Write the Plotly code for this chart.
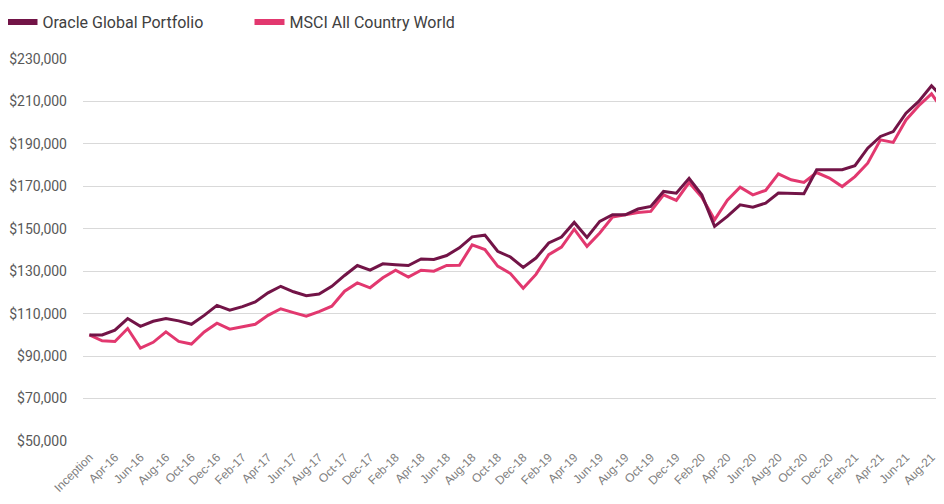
import plotly.graph_objects as go

months = [
    "Inception", "Mar-16", "Apr-16", "May-16", "Jun-16", "Jul-16", "Aug-16", "Sep-16", "Oct-16", "Nov-16", "Dec-16",
    "Jan-17", "Feb-17", "Mar-17", "Apr-17", "May-17", "Jun-17", "Jul-17", "Aug-17", "Sep-17", "Oct-17", "Nov-17", "Dec-17",
    "Jan-18", "Feb-18", "Mar-18", "Apr-18", "May-18", "Jun-18", "Jul-18", "Aug-18", "Sep-18", "Oct-18", "Nov-18", "Dec-18",
    "Jan-19", "Feb-19", "Mar-19", "Apr-19", "May-19", "Jun-19", "Jul-19", "Aug-19", "Sep-19", "Oct-19", "Nov-19", "Dec-19",
    "Jan-20", "Feb-20", "Mar-20", "Apr-20", "May-20", "Jun-20", "Jul-20", "Aug-20", "Sep-20", "Oct-20", "Nov-20", "Dec-20",
    "Jan-21", "Feb-21", "Mar-21", "Apr-21", "May-21", "Jun-21", "Jul-21", "Aug-21", "Sep-21",
]

portfolio = [
    100.0, 100.0, 102.2, 107.7, 104.0, 106.4, 107.7, 106.6, 105.0, 109.2, 113.9,
    111.6, 113.3, 115.5, 119.8, 122.9, 120.3, 118.5, 119.3, 122.9, 128.0, 132.7, 130.5,
    133.5, 133.1, 132.7, 135.8, 135.5, 137.4, 141.0, 146.2, 147.0, 139.4, 136.7, 131.8,
    136.2, 143.3, 146.1, 153.0, 145.9, 153.5, 156.6, 156.6, 159.3, 160.5, 167.6, 166.8,
    173.8, 166.0, 151.1, 155.8, 161.3, 160.2, 162.1, 166.8, 166.8, 166.5, 177.8, 177.8,
    177.8, 179.7, 188.0, 193.5, 195.8, 204.5, 210.0, 217.4, 211.0,
]

msci = [
    100.0, 97.2, 96.9, 103.0, 93.8, 96.5, 101.4, 96.9, 95.7, 101.4, 105.5,
    102.7, 103.8, 105.0, 109.2, 112.3, 110.5, 108.8, 111.0, 113.5, 120.6, 124.5, 122.2,
    126.9, 130.5, 127.3, 130.5, 130.0, 132.7, 132.8, 142.4, 140.2, 132.4, 128.9, 122.0,
    128.5, 137.8, 141.4, 149.8, 141.7, 148.0, 155.5, 156.6, 157.7, 158.2, 166.0, 163.4,
    171.8, 164.9, 154.2, 163.5, 169.6, 166.0, 168.1, 175.9, 173.1, 171.8, 176.5, 173.9,
    169.9, 174.6, 180.9, 191.9, 190.7, 201.3, 208.0, 213.6, 205.0,
]

series_names = ["Oracle Global Portfolio", "MSCI All Country World"]
y_ticks = [50000, 70000, 90000, 110000, 130000, 150000, 170000, 190000, 210000, 230000]

DARK = "#721447"
PINK = "#e2386f"

fig = go.Figure()
for name, vals, col in [(series_names[1], msci, PINK), (series_names[0], portfolio, DARK)]:
    fig.add_trace(go.Scatter(
        x=months, y=[v * 1000 for v in vals], mode="lines", name=name,
        line=dict(color=col, width=3), showlegend=False, hoverinfo="x+y",
    ))
# legend entries (thick swatches)
for name, col in [(series_names[0], DARK), (series_names[1], PINK)]:
    fig.add_trace(go.Scatter(
        x=[None], y=[None], mode="lines", name=name,
        line=dict(color=col, width=6), showlegend=True,
    ))

fig.update_layout(
    width=936, height=496,
    margin=dict(l=75, r=0, t=51, b=63, autoexpand=False),
    paper_bgcolor="white", plot_bgcolor="white",
    font=dict(family="Roboto", color="#595959"),
    legend=dict(
        orientation="h", x=-0.0935, y=1.1414, xref="paper", yref="paper",
        xanchor="left", yanchor="top",
        font=dict(family="Roboto", size=16, color="#404040"),
        entrywidth=202, itemwidth=30, tracegroupgap=0,
        bgcolor="rgba(0,0,0,0)", borderwidth=0,
    ),
    xaxis=dict(
        type="category", categoryorder="array", categoryarray=months,
        tickvals=months[::2], ticktext=months[::2],
        tickangle=-45, range=[-0.5, 66.98],
        showgrid=False, zeroline=False, showline=False, ticks="",
        ticklabelstandoff=6,
        tickfont=dict(family="Liberation Sans", size=12, color="#808080"),
        automargin=False,
    ),
    yaxis=dict(
        range=[50000, 230000], tickvals=y_ticks,
        ticktext=["${:,}".format(v) for v in y_ticks],
        showgrid=True, gridcolor="#d9d9d9", gridwidth=1,
        zeroline=False, showline=False, ticks="",
        ticklabelstandoff=15,
        tickfont=dict(family="Roboto", size=14, color="#595959"),
        automargin=False,
    ),
)

fig.write_html("out.html")
